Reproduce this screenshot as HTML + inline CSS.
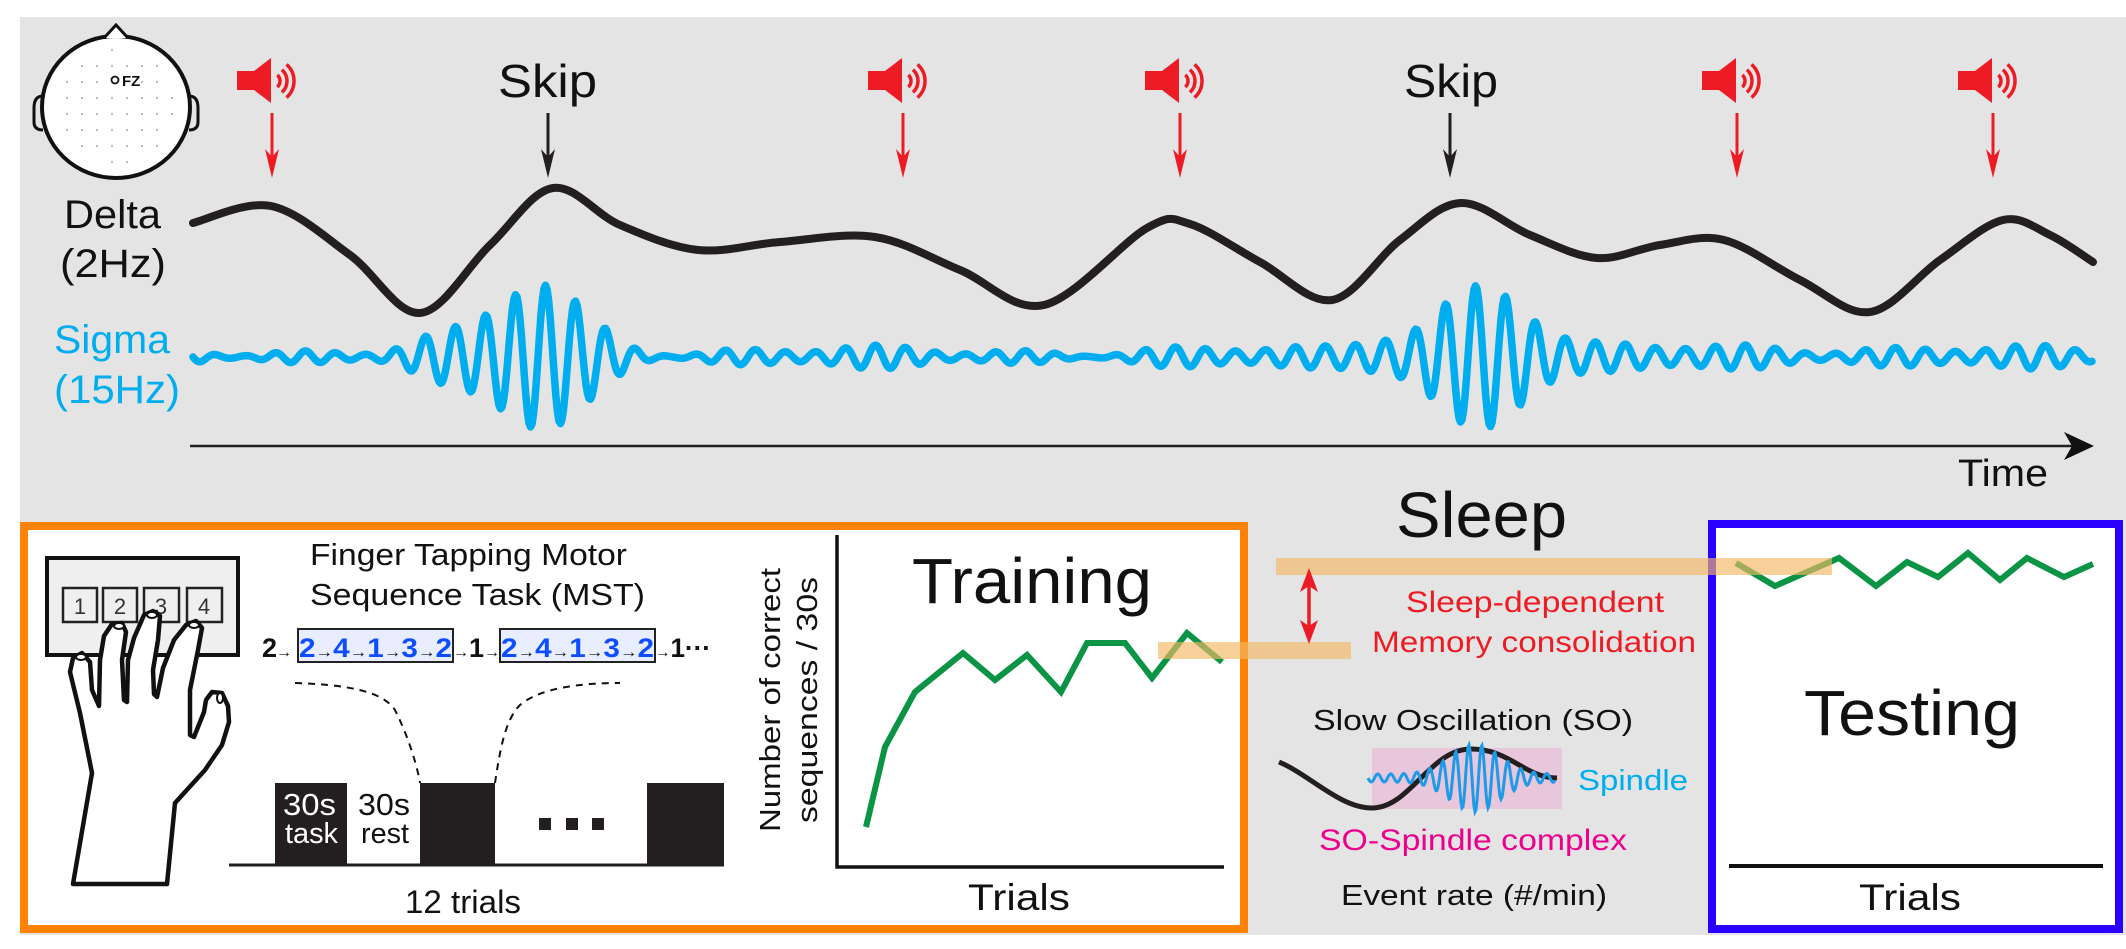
<!DOCTYPE html>
<html><head><meta charset="utf-8"><style>
html,body{margin:0;padding:0;background:#fff;}
svg{display:block;}
text{font-family:"Liberation Sans",Arial,sans-serif;}
</style></head><body>
<svg id="s" width="2126" height="949" viewBox="0 0 2126 949" xmlns="http://www.w3.org/2000/svg">
<rect x="20" y="17" width="2106" height="918" fill="#e4e4e4"/>
<ellipse cx="116" cy="107" rx="74" ry="71" fill="#fff" stroke="#111" stroke-width="4"/>
<path d="M104,38 L116,25 L128,38" fill="#fff" stroke="#111" stroke-width="3"/>
<path d="M43,96 Q34,96 34,108 L34,122 Q34,130 43,130" fill="none" stroke="#111" stroke-width="3"/>
<path d="M189,96 Q198,96 198,108 L198,122 Q198,130 189,130" fill="none" stroke="#111" stroke-width="3"/>
<g id="dots" fill="#888"></g>
<circle cx="115" cy="80" r="3.5" fill="none" stroke="#111" stroke-width="1.8"/>
<text x="122" y="86" font-size="15" font-weight="bold" fill="#111">FZ</text>
<g id="spk"></g>
<text x="498" y="97" font-size="46" fill="#111" textLength="99" lengthAdjust="spacingAndGlyphs">Skip</text>
<text x="1404" y="97" font-size="46" fill="#111" textLength="94" lengthAdjust="spacingAndGlyphs">Skip</text>
<text x="64" y="228" font-size="40" fill="#111" textLength="97" lengthAdjust="spacingAndGlyphs">Delta</text>
<text x="60" y="277" font-size="40" fill="#111" textLength="106" lengthAdjust="spacingAndGlyphs">(2Hz)</text>
<text x="54" y="353" font-size="40" fill="#00aeef" textLength="116" lengthAdjust="spacingAndGlyphs">Sigma</text>
<text x="54" y="403" font-size="40" fill="#00aeef" textLength="126" lengthAdjust="spacingAndGlyphs">(15Hz)</text>
<path id="delta" fill="none" stroke="#231f20" stroke-width="8" stroke-linecap="round"/>
<path id="sigma" fill="none" stroke="#00aeef" stroke-width="7.5" stroke-linejoin="round" stroke-linecap="round"/>
<line x1="190" y1="446" x2="2080" y2="446" stroke="#231f20" stroke-width="2.5"/>
<path d="M2064,432 L2094,446 L2064,460 L2072,446 Z" fill="#111"/>
<text x="1958" y="486" font-size="38" fill="#111" textLength="90" lengthAdjust="spacingAndGlyphs">Time</text>

<rect x="24" y="526" width="1220" height="403" fill="#fff" stroke="#ff8205" stroke-width="8"/>
<rect x="1712" y="524" width="407" height="405" fill="#fff" stroke="#2a00ff" stroke-width="8"/>

<rect x="47" y="558" width="191" height="97" fill="#efeff0" stroke="#111" stroke-width="4"/>
<g fill="#efeff0" stroke="#222" stroke-width="2.5">
<rect x="63" y="588" width="34" height="34"/><rect x="103" y="588" width="34" height="34"/>
<rect x="144" y="588" width="35" height="34"/><rect x="187" y="588" width="35" height="34"/>
</g>
<g font-family="Liberation Serif,serif" font-size="22" fill="#333" text-anchor="middle">
<text x="80" y="614">1</text><text x="120" y="614">2</text><text x="161" y="614">3</text><text x="204" y="614">4</text>
</g>
<path d="M73,884 L92,773 L80,713 L70,672 L73,658 L82,653 L90,662 L92,690 L99,706 L100,660 L104,636 L112,624 L122,623 L126,632 L122,660 L124,700 L127,702 L128,660 L134,638 L144,615 L153,611 L160,616 L158,640 L153,670 L154,694 L157,697 L163,668 L174,640 L186,625 L196,621 L202,628 L198,650 L190,690 L190,735 L194,737 L204,712 L206,700 L212,692 L222,693 L228,706 L229,722 L222,745 L205,770 L175,803 L167,884 Z" fill="#fff" stroke="#111" stroke-width="4.5" stroke-linejoin="round"/>
<g fill="#fff" stroke="#111" stroke-width="2"><ellipse cx="81" cy="657" rx="5" ry="3"/><ellipse cx="119" cy="626" rx="5" ry="3"/><ellipse cx="152" cy="615" rx="5" ry="3"/><ellipse cx="194" cy="625" rx="5" ry="3"/><ellipse cx="220" cy="698" rx="3" ry="5"/></g>

<text x="310" y="565" font-size="31" fill="#111" textLength="317" lengthAdjust="spacingAndGlyphs">Finger Tapping Motor</text>
<text x="310" y="605" font-size="31" fill="#111" textLength="335" lengthAdjust="spacingAndGlyphs">Sequence Task (MST)</text>
<rect x="298" y="629" width="155" height="33" fill="#e8eeff" stroke="#222" stroke-width="2"/>
<rect x="500" y="629" width="155" height="33" fill="#e8eeff" stroke="#222" stroke-width="2"/>
<g font-size="27" font-weight="bold">
<text x="262" y="657" fill="#111">2</text>
<text x="299" y="657" fill="#0b4dff" textLength="153" lengthAdjust="spacingAndGlyphs"><tspan>2</tspan><tspan fill="#111" font-size="16">→</tspan><tspan>4</tspan><tspan fill="#111" font-size="16">→</tspan><tspan>1</tspan><tspan fill="#111" font-size="16">→</tspan><tspan>3</tspan><tspan fill="#111" font-size="16">→</tspan><tspan>2</tspan></text>
<text x="501" y="657" fill="#0b4dff" textLength="153" lengthAdjust="spacingAndGlyphs"><tspan>2</tspan><tspan fill="#111" font-size="16">→</tspan><tspan>4</tspan><tspan fill="#111" font-size="16">→</tspan><tspan>1</tspan><tspan fill="#111" font-size="16">→</tspan><tspan>3</tspan><tspan fill="#111" font-size="16">→</tspan><tspan>2</tspan></text>
<text x="453" y="657" fill="#111" textLength="47" lengthAdjust="spacingAndGlyphs"><tspan font-size="16">→</tspan>1<tspan font-size="16">→</tspan></text>
<text x="655" y="657" fill="#111" textLength="56" lengthAdjust="spacingAndGlyphs"><tspan font-size="16">→</tspan>1···</text>
</g>
<text x="276" y="657" font-size="16" font-weight="bold" fill="#111">→</text>
<path d="M295,683 C360,685 385,695 395,710 C410,740 418,770 420,783" fill="none" stroke="#111" stroke-width="2" stroke-dasharray="7,6"/>
<path d="M495,783 C500,750 505,720 520,705 C540,688 580,683 620,683" fill="none" stroke="#111" stroke-width="2" stroke-dasharray="7,6"/>
<g fill="#231f20"><rect x="275" y="783" width="72" height="82"/><rect x="420" y="783" width="75" height="82"/><rect x="647" y="783" width="77" height="82"/>
<rect x="539" y="818" width="12" height="12"/><rect x="566" y="818" width="12" height="12"/><rect x="592" y="818" width="12" height="12"/></g>
<line x1="229" y1="865" x2="724" y2="865" stroke="#231f20" stroke-width="3"/>
<text x="283" y="815" font-size="31" fill="#fff" textLength="53" lengthAdjust="spacingAndGlyphs">30s</text>
<text x="285" y="843" font-size="29" fill="#fff" textLength="53" lengthAdjust="spacingAndGlyphs">task</text>
<text x="358" y="815" font-size="31" fill="#111" textLength="52" lengthAdjust="spacingAndGlyphs">30s</text>
<text x="361" y="843" font-size="29" fill="#111" textLength="48" lengthAdjust="spacingAndGlyphs">rest</text>
<text x="405" y="913" font-size="32" fill="#111" textLength="116" lengthAdjust="spacingAndGlyphs">12 trials</text>

<path d="M837,535 L837,867 L1224,867" fill="none" stroke="#111" stroke-width="3.5"/>
<text x="912" y="603" font-size="64" fill="#111" textLength="240" lengthAdjust="spacingAndGlyphs">Training</text>
<text transform="translate(780,700) rotate(-90)" text-anchor="middle" font-size="29" fill="#111" textLength="264" lengthAdjust="spacingAndGlyphs">Number of correct</text>
<text transform="translate(817,700) rotate(-90)" text-anchor="middle" font-size="29" fill="#111" textLength="246" lengthAdjust="spacingAndGlyphs">sequences / 30s</text>
<text x="968" y="910" font-size="37" fill="#111" textLength="102" lengthAdjust="spacingAndGlyphs">Trials</text>
<polyline points="866,827 885,747 915,692 963,653 995,680 1027,655 1061,692 1087,643 1125,643 1152,678 1187,633 1222,662" fill="none" stroke="#0a9444" stroke-width="6" stroke-linejoin="miter"/>

<text x="1804" y="735" font-size="64" fill="#111" textLength="216" lengthAdjust="spacingAndGlyphs">Testing</text>
<line x1="1729" y1="866" x2="2103" y2="866" stroke="#111" stroke-width="4"/>
<text x="1859" y="910" font-size="37" fill="#111" textLength="102" lengthAdjust="spacingAndGlyphs">Trials</text>
<polyline id="testg" fill="none" stroke="#0a9444" stroke-width="6"/>

<rect x="1276" y="558" width="556" height="17" fill="#f5b964" opacity="0.65"/>
<rect x="1158" y="642" width="193" height="17" fill="#f5b964" opacity="0.65"/>
<line x1="1309" y1="582" x2="1309" y2="630" stroke="#ed1c24" stroke-width="3.5"/>
<path d="M1309,568 L1300,592 L1309,586 L1318,592 Z M1309,644 L1300,620 L1309,626 L1318,620 Z" fill="#ed1c24"/>
<text x="1396" y="537" font-size="64" fill="#111" textLength="171" lengthAdjust="spacingAndGlyphs">Sleep</text>
<text x="1406" y="612" font-size="30" fill="#ed1c24" textLength="258" lengthAdjust="spacingAndGlyphs">Sleep-dependent</text>
<text x="1372" y="652" font-size="30" fill="#ed1c24" textLength="324" lengthAdjust="spacingAndGlyphs">Memory consolidation</text>
<text x="1313" y="730" font-size="29" fill="#111" textLength="320" lengthAdjust="spacingAndGlyphs">Slow Oscillation (SO)</text>
<rect x="1372" y="748" width="190" height="61" fill="#e8c6dc"/>
<path d="M1279,762 C1310,775 1340,808 1372,808 C1410,808 1430,749 1471,749 C1510,749 1525,778 1557,778" fill="none" stroke="#231f20" stroke-width="5"/>
<path id="spin" fill="none" stroke="#1e9be8" stroke-width="3"/>
<text x="1578" y="790" font-size="29" fill="#00aeef" textLength="110" lengthAdjust="spacingAndGlyphs">Spindle</text>
<text x="1319" y="850" font-size="30" fill="#ec008c" textLength="308" lengthAdjust="spacingAndGlyphs">SO-Spindle complex</text>
<text x="1341" y="905" font-size="29" fill="#111" textLength="266" lengthAdjust="spacingAndGlyphs">Event rate (#/min)</text>
</svg>
<script>
(function(){
var NS="http://www.w3.org/2000/svg";
function el(t,a,p){var e=document.createElementNS(NS,t);for(var k in a)e.setAttribute(k,a[k]);p.appendChild(e);return e;}
var d=document.getElementById('dots');
for(var y=50;y<170;y+=16){for(var x=52;x<185;x+=15){var dx=(x-116)/68,dy=(y-107)/64;if(dx*dx+dy*dy<0.8&&!(Math.abs(x-118)<12&&Math.abs(y-80)<8))el('circle',{cx:x,cy:y,r:0.9},d);}}
var s=document.getElementById('spk');
[272,903,1180,1737,1993].forEach(function(a){
 el('rect',{x:a-35,y:71,width:18,height:19,fill:'#ed1c24'},s);
 el('path',{d:'M'+(a-18)+',71 L'+(a-1)+',58 L'+(a-1)+',103 L'+(a-18)+',90 Z',fill:'#ed1c24'},s);
 [8,15,22].forEach(function(r){var ang=0.85;el('path',{d:'M'+(a+r*Math.cos(-ang))+','+(81+r*Math.sin(-ang))+' A'+r+','+r+' 0 0 1 '+(a+r*Math.cos(ang))+','+(81+r*Math.sin(ang)),fill:'none',stroke:'#ed1c24','stroke-width':3.5},s);});
});
[[272,'#ed1c24'],[903,'#ed1c24'],[1180,'#ed1c24'],[1737,'#ed1c24'],[1993,'#ed1c24'],[548,'#231f20'],[1450,'#231f20']].forEach(function(p){
 var a=p[0];el('line',{x1:a,y1:113,x2:a,y2:160,stroke:p[1],'stroke-width':3},s);
 el('path',{d:'M'+(a-7)+',149 L'+a+',157 L'+(a+7)+',149 L'+a+',178 Z',fill:p[1]},s);
});
var P=[[193,223],[271,206],[350,255],[420,313],[490,245],[553,188],[620,225],[698,250],[780,242],[875,237],[960,270],[1044,305],[1147,228],[1190,224],[1260,262],[1332,300],[1400,240],[1461,203],[1530,235],[1597,258],[1660,245],[1724,240],[1800,280],[1870,312],[1940,260],[2003,220],[2050,235],[2093,262]];
var str='M'+P[0][0]+','+P[0][1];
for(var i=0;i<P.length-1;i++){var p0=P[Math.max(0,i-1)],p1=P[i],p2=P[i+1],p3=P[Math.min(P.length-1,i+2)];
 str+=' C'+(p1[0]+(p2[0]-p0[0])/6)+','+(p1[1]+(p2[1]-p0[1])/6)+' '+(p2[0]-(p3[0]-p1[0])/6)+','+(p2[1]-(p3[1]-p1[1])/6)+' '+p2[0]+','+p2[1];}
document.getElementById('delta').setAttribute('d',str);
var q='';for(var x=193;x<=2093;x+=1.5){
 var A=6+3*Math.sin(x/61)+3*Math.sin(x/23+1)+4*Math.exp(-Math.pow((x-1750)/150,2))+66*Math.exp(-Math.pow((x-540)/62,2))+66*Math.exp(-Math.pow((x-1482)/62,2))+10*Math.exp(-Math.pow((x-440)/40,2))+10*Math.exp(-Math.pow((x-1380)/40,2));
 var y=357+A*Math.sin(2*Math.PI*(x-193)/30);q+=(q?' L':'M')+x.toFixed(1)+','+y.toFixed(1);}
document.getElementById('sigma').setAttribute('d',q);
var r='';for(var x=1368;x<=1555;x+=1){var A=4+30*Math.exp(-Math.pow((x-1475)/35,2));var y=778+A*Math.sin(2*Math.PI*(x-1368)/13);r+=(r?' L':'M')+x+','+y.toFixed(1);}
document.getElementById('spin').setAttribute('d',r);
var xs=[[980,250],[1037,318],[1130,235],[1185,318],[1230,245],[1275,290],[1318,218],[1365,300],[1405,235],[1458,290],[1500,252]];
document.getElementById('testg').setAttribute('points',xs.map(function(p){return (p[0]/1.457+1063).toFixed(0)+','+(480+p[1]/3).toFixed(0);}).join(' '));
})();
</script>
</body></html>
